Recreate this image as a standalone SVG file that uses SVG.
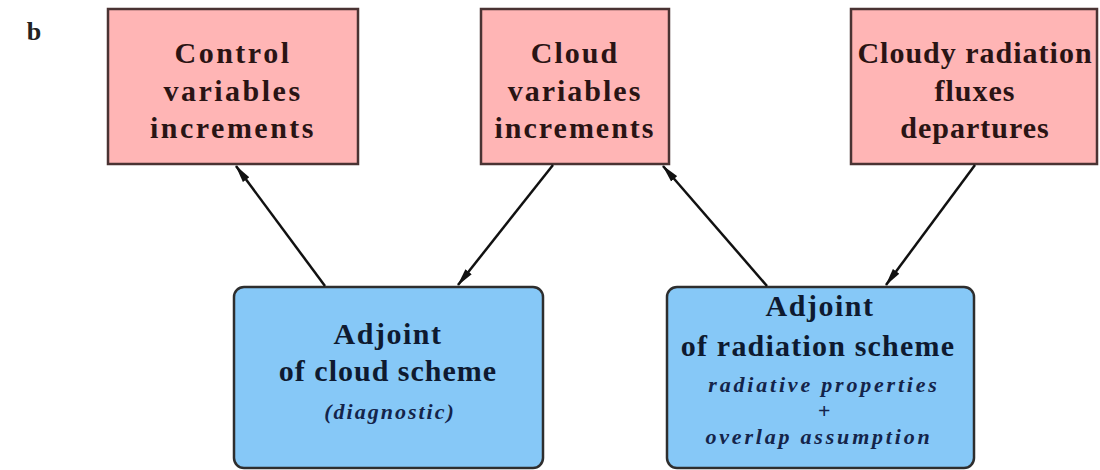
<svg xmlns="http://www.w3.org/2000/svg" width="1100" height="470" viewBox="0 0 1100 470">
<style>
.pink{fill:#ffb5b5;stroke:#4a3333;stroke-width:2.5}
.blue{fill:#86c8f7;stroke:#2e2e2e;stroke-width:2.5}
.t{font-weight:bold;font-size:30px;text-anchor:middle}
.tp{fill:#2a1414}
.tb{fill:#0e1a30}
.it{font-weight:bold;font-style:italic;font-size:22px;text-anchor:middle;fill:#14244a}
.edge{stroke:#111;stroke-width:2.5;fill:none;marker-end:url(#ah)}
</style>
<defs>
<marker id="ah" viewBox="0 0 18 9" refX="17" refY="4.5" markerWidth="18" markerHeight="9" markerUnits="userSpaceOnUse" orient="auto">
<path d="M0,0.5 L18,4.5 L0,8.5 Z" fill="#111"/>
</marker>
</defs>
<rect width="1100" height="470" fill="#fff"/>
<text x="34" y="40" font-family="Liberation Serif" font-weight="bold" font-size="26" fill="#222" text-anchor="middle">b</text>

<g id="control" font-family="Liberation Serif">
<rect class="pink" x="108" y="9" width="250" height="155"/>
<text class="t tp" x="233" y="63" letter-spacing="2.5">Control</text>
<text class="t tp" x="233" y="101" letter-spacing="2.5">variables</text>
<text class="t tp" x="233" y="138" letter-spacing="2.5">increments</text>
</g>
<g id="cloudvars" font-family="Liberation Serif">
<rect class="pink" x="481" y="9" width="188" height="155"/>
<text class="t tp" x="575" y="63" letter-spacing="2">Cloud</text>
<text class="t tp" x="575" y="101" letter-spacing="2">variables</text>
<text class="t tp" x="575" y="138" letter-spacing="2">increments</text>
</g>
<g id="fluxes" font-family="Liberation Serif">
<rect class="pink" x="851" y="9" width="246" height="155"/>
<text class="t tp" x="975" y="63" letter-spacing="1">Cloudy radiation</text>
<text class="t tp" x="975" y="101" letter-spacing="1">fluxes</text>
<text class="t tp" x="975" y="138" letter-spacing="1">departures</text>
</g>
<g id="adjcloud" font-family="Liberation Serif">
<rect class="blue" x="234" y="287" width="309" height="181" rx="10"/>
<text class="t tb" x="388" y="344" letter-spacing="1.5">Adjoint</text>
<text class="t tb" x="388" y="381" letter-spacing="1">of cloud scheme</text>
<text class="it" x="390" y="419" font-size="24" letter-spacing="2">(diagnostic)</text>
</g>
<g id="adjrad" font-family="Liberation Serif">
<rect class="blue" x="667" y="287" width="307" height="181" rx="10"/>
<text class="t tb" x="820" y="316" letter-spacing="1.5">Adjoint</text>
<text class="t tb" x="818" y="356" letter-spacing="1.2">of radiation scheme</text>
<text class="it" x="824" y="392" letter-spacing="2.8">radiative properties</text>
<text class="it" x="824" y="418">+</text>
<text class="it" x="819" y="444" letter-spacing="2.8">overlap assumption</text>
</g>
<g id="connectors">
<line class="edge" x1="325" y1="286" x2="236" y2="166"/>
<line class="edge" x1="553" y1="165" x2="458" y2="285"/>
<line class="edge" x1="767" y1="286" x2="663" y2="166"/>
<line class="edge" x1="975" y1="165" x2="886" y2="285"/>
</g>
</svg>
